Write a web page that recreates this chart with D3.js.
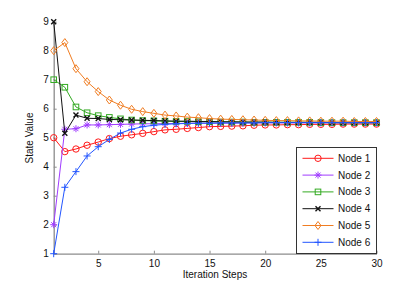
<!DOCTYPE html>
<html>
<head>
<meta charset="utf-8">
<script src="https://cdn.jsdelivr.net/npm/d3@7"></script>
<style>
  body { margin: 0; background: #fff; }
  text { font-family: "Liberation Sans", Arial, sans-serif; }
</style>
</head>
<body>
<div id="chart"></div>
<script>
var steps = d3.range(1, 31);
var xTicks = [5, 10, 15, 20, 25, 30];
var yTicks = [1, 2, 3, 4, 5, 6, 7, 8, 9];
var nodeNames = ["Node 1", "Node 2", "Node 3", "Node 4", "Node 5", "Node 6"];
var nodeColors = ["#ff1a1a", "#a03cff", "#33aa22", "#111111", "#f07d22", "#2255ff"];
var nodeMarkers = ["circle", "star", "square", "cross", "diamond", "plus"];

var node1 = [5.00, 4.52, 4.61, 4.74, 4.85, 4.97, 5.05, 5.10, 5.15, 5.21, 5.27, 5.29, 5.32, 5.35, 5.38,
             5.39, 5.40, 5.41, 5.43, 5.44, 5.44, 5.45, 5.45, 5.46, 5.46, 5.46, 5.47, 5.47, 5.47, 5.47];
var node2 = [2.00, 5.29, 5.31, 5.44, 5.44, 5.45, 5.46, 5.47, 5.48, 5.48, 5.49, 5.49, 5.50, 5.50, 5.50,
             5.50, 5.50, 5.51, 5.51, 5.51, 5.51, 5.51, 5.51, 5.51, 5.51, 5.51, 5.51, 5.51, 5.51, 5.51];
var node3 = [7.00, 6.74, 6.06, 5.86, 5.76, 5.70, 5.65, 5.61, 5.59, 5.58, 5.57, 5.56, 5.56, 5.55, 5.55,
             5.54, 5.54, 5.54, 5.53, 5.53, 5.53, 5.53, 5.53, 5.53, 5.52, 5.52, 5.52, 5.52, 5.52, 5.52];
var node4 = [9.00, 5.15, 5.78, 5.67, 5.66, 5.63, 5.62, 5.61, 5.60, 5.59, 5.58, 5.57, 5.57, 5.56, 5.56,
             5.55, 5.55, 5.54, 5.54, 5.54, 5.53, 5.53, 5.53, 5.53, 5.53, 5.52, 5.52, 5.52, 5.52, 5.52];
var node5 = [8.00, 8.28, 7.38, 6.93, 6.59, 6.30, 6.12, 5.98, 5.90, 5.84, 5.78, 5.75, 5.71, 5.69, 5.66,
             5.64, 5.63, 5.62, 5.61, 5.60, 5.59, 5.59, 5.58, 5.58, 5.57, 5.57, 5.57, 5.56, 5.56, 5.56];
var node6 = [1.00, 3.29, 3.83, 4.37, 4.69, 4.94, 5.16, 5.29, 5.38, 5.43, 5.46, 5.48, 5.49, 5.50, 5.50,
             5.51, 5.51, 5.51, 5.51, 5.52, 5.52, 5.52, 5.52, 5.52, 5.52, 5.52, 5.52, 5.52, 5.52, 5.52];

var series = [node1, node2, node3, node4, node5, node6];

var width = 415;
var height = 286;
var axisColor = "#8c8c8c";

var svg = d3.select("#chart").append("svg")
    .attr("width", width)
    .attr("height", height);

var x = d3.scaleLinear().domain([1, 30]).range([53.7, 376.5]);
var y = d3.scaleLinear().domain([1, 9]).range([253.7, 21.7]);

// axes (box off, ticks pointing inward)
var xAxis = svg.append("g")
    .attr("transform", "translate(0," + y(1) + ")")
    .call(d3.axisBottom(x).tickValues(xTicks).tickSizeInner(-3).tickSizeOuter(0).tickPadding(6));
var yAxis = svg.append("g")
    .attr("transform", "translate(" + x(1) + ",0)")
    .call(d3.axisLeft(y).tickValues(yTicks).tickSizeInner(-3).tickSizeOuter(0).tickPadding(5));

[xAxis, yAxis].forEach(function(g) {
  g.select(".domain").attr("stroke", axisColor).attr("stroke-width", 1.3);
  g.selectAll(".tick line").attr("stroke", axisColor);
  g.selectAll(".tick text").attr("fill", "#111").style("font-size", "10px");
});

svg.append("text")
    .attr("x", 215)
    .attr("y", 278)
    .attr("text-anchor", "middle")
    .style("font-size", "10px")
    .attr("fill", "#111")
    .text("Iteration Steps");

svg.append("text")
    .attr("transform", "translate(33,138) rotate(-90)")
    .attr("text-anchor", "middle")
    .style("font-size", "10px")
    .attr("fill", "#111")
    .text("State Value");

function drawMarker(g, type, color, cx, cy) {
  if (type === "circle") {
    g.append("circle").attr("cx", cx).attr("cy", cy).attr("r", 3.2)
        .attr("fill", "none").attr("stroke", color).attr("stroke-width", 1);
  } else if (type === "square") {
    g.append("rect").attr("x", cx - 2.8).attr("y", cy - 2.8).attr("width", 5.6).attr("height", 5.6)
        .attr("fill", "none").attr("stroke", color).attr("stroke-width", 1);
  } else if (type === "diamond") {
    g.append("path")
        .attr("d", "M" + cx + "," + (cy - 4) + "L" + (cx + 3) + "," + cy + "L" + cx + "," + (cy + 4) + "L" + (cx - 3) + "," + cy + "Z")
        .attr("fill", "none").attr("stroke", color).attr("stroke-width", 1);
  } else if (type === "plus") {
    g.append("path")
        .attr("d", "M" + (cx - 3.5) + "," + cy + "H" + (cx + 3.5) + "M" + cx + "," + (cy - 3.5) + "V" + (cy + 3.5))
        .attr("stroke", color).attr("stroke-width", 1);
  } else if (type === "cross") {
    g.append("path")
        .attr("d", "M" + (cx - 2.5) + "," + (cy - 2.5) + "L" + (cx + 2.5) + "," + (cy + 2.5) +
                   "M" + (cx - 2.5) + "," + (cy + 2.5) + "L" + (cx + 2.5) + "," + (cy - 2.5))
        .attr("stroke", color).attr("stroke-width", 1.4);
  } else if (type === "star") {
    g.append("path")
        .attr("d", "M" + (cx - 3.5) + "," + cy + "H" + (cx + 3.5) + "M" + cx + "," + (cy - 3.5) + "V" + (cy + 3.5) +
                   "M" + (cx - 2.5) + "," + (cy - 2.5) + "L" + (cx + 2.5) + "," + (cy + 2.5) +
                   "M" + (cx - 2.5) + "," + (cy + 2.5) + "L" + (cx + 2.5) + "," + (cy - 2.5))
        .attr("stroke", color).attr("stroke-width", 1);
  }
}

var line = d3.line()
    .x(function(d, i) { return x(steps[i]); })
    .y(function(d) { return y(d); });

series.forEach(function(values, k) {
  var g = svg.append("g").attr("class", "series");
  g.append("path")
      .datum(values)
      .attr("d", line)
      .attr("fill", "none")
      .attr("stroke", nodeColors[k])
      .attr("stroke-width", 1);
  values.forEach(function(v, i) {
    drawMarker(g, nodeMarkers[k], nodeColors[k], x(steps[i]), y(v));
  });
});

// legend
var legend = svg.append("g");
legend.append("rect")
    .attr("x", 296.5)
    .attr("y", 147.5)
    .attr("width", 80)
    .attr("height", 106)
    .attr("fill", "#fff")
    .attr("stroke", "#333")
    .attr("stroke-width", 1);

nodeNames.forEach(function(name, k) {
  var ly = 158.3 + k * 16.8;
  legend.append("line")
      .attr("x1", 302.5).attr("x2", 333.5)
      .attr("y1", ly).attr("y2", ly)
      .attr("stroke", nodeColors[k])
      .attr("stroke-width", 1);
  drawMarker(legend, nodeMarkers[k], nodeColors[k], 318, ly);
  legend.append("text")
      .attr("x", 338)
      .attr("y", ly + 3.5)
      .style("font-size", "10px")
      .attr("fill", "#111")
      .text(name);
});
</script>
</body>
</html>
